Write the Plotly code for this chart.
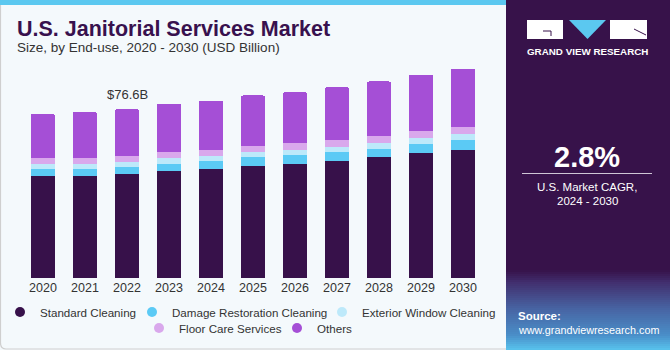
import plotly.graph_objects as go

years = ["2020", "2021", "2022", "2023", "2024", "2025", "2026", "2027", "2028", "2029", "2030"]
standard = [46.4, 46.4, 47.1, 48.6, 49.5, 50.9, 51.9, 53.2, 54.8, 56.7, 58.2]
damage = [3.2, 3.2, 3.2, 3.3, 3.5, 3.8, 3.8, 3.8, 3.9, 3.9, 4.2]
exterior = [2.3, 2.3, 2.3, 2.4, 2.3, 2.3, 2.4, 2.6, 2.6, 2.7, 3.0]
floor = [2.7, 2.7, 2.7, 2.9, 2.9, 3.0, 3.0, 2.9, 3.2, 3.2, 3.2]
others = [19.8, 20.7, 21.3, 21.8, 22.1, 22.8, 23.1, 24.0, 24.6, 25.6, 26.2]
series_names = ["Standard Cleaning", "Damage Restoration Cleaning", "Exterior Window Cleaning",
                "Floor Care Services", "Others"]
series_colors = ["#37114a", "#5bcaf5", "#bde9fa", "#d9a8ec", "#a54fd6"]
highlight_label = "$76.6B"
highlight_year = "2022"

W, H = 670, 350
# plot area in pixels
PL, PR, PT, PB = 22, 484, 65, 278.3
YMAX = 96.55


def px(x):
    return x / W


def py(y):
    return 1 - y / H


fig = go.Figure()
series = [standard, damage, exterior, floor, others]
legend_ids = ["legend", "legend2", "legend3", "legend4", "legend5"]
for name, vals, col in zip(series_names, series, series_colors):
    fig.add_trace(go.Bar(
        x=years, y=vals, name=name, marker_color=col,
        marker_line_width=0, showlegend=False,
    ))
# legend entries with round symbols
for name, col, lid in zip(series_names, series_colors, legend_ids):
    fig.add_trace(go.Scatter(
        x=[None], y=[None], mode="markers", name=name, legend=lid,
        marker=dict(symbol="circle", size=10, color=col), showlegend=True,
    ))

totals = [sum(v) for v in zip(*series)]
hi = years.index(highlight_year)
fig.add_annotation(x=hi, y=totals[hi], xref="x", yref="y", text=highlight_label,
                   showarrow=False, yshift=15, font=dict(size=13, color="#333333",
                                                           family="Liberation Sans"))

shapes = []
# left panel border
shapes.append(dict(type="path", xref="paper", yref="paper",
                   path=f"M {px(0.5)},{py(0)} L {px(0.5)},{py(343)} Q {px(0.5)},{py(349)} {px(6)},{py(349)} L {px(506)},{py(349)}",
                   line=dict(color="#cfcfcf", width=1.2), layer="below"))
# top strip
shapes.append(dict(type="rect", xref="paper", yref="paper", x0=px(0), x1=px(506), y0=py(0), y1=py(5),
                   fillcolor="#5bc8f0", line_width=0, layer="below"))
# right panel
shapes.append(dict(type="rect", xref="paper", yref="paper", x0=px(506), x1=px(670), y0=py(0), y1=py(350),
                   fillcolor="#37124a", line_width=0, layer="below"))
# gradient at bottom of right panel
stops = [(270, (55, 18, 74)), (283, (66, 48, 112)), (310, (72, 102, 165)), (335, (74, 142, 200)), (350, (88, 196, 238))]
for y0 in range(270, 350, 2):
    ym = y0 + 1
    for (a, ca), (b, cb) in zip(stops[:-1], stops[1:]):
        if a <= ym <= b:
            t = (ym - a) / (b - a)
            c = tuple(int(ca[k] + (cb[k] - ca[k]) * t) for k in range(3))
            break
    shapes.append(dict(type="rect", xref="paper", yref="paper", x0=px(506), x1=px(670),
                       y0=py(y0), y1=py(y0 + 2.5), fillcolor=f"rgb{c}", line_width=0, layer="below"))
# logo
shapes.append(dict(type="rect", xref="paper", yref="paper", x0=px(527), x1=px(563), y0=py(20), y1=py(39),
                   fillcolor="white", line_width=0))
shapes.append(dict(type="path", xref="paper", yref="paper",
                   path=f"M {px(569)},{py(20)} L {px(606)},{py(20)} L {px(587.5)},{py(39)} Z",
                   fillcolor="#5bc8f0", line_width=0))
shapes.append(dict(type="rect", xref="paper", yref="paper", x0=px(610), x1=px(647), y0=py(20), y1=py(39),
                   fillcolor="white", line_width=0))
shapes.append(dict(type="path", xref="paper", yref="paper",
                   path=f"M {px(543)},{py(31)} L {px(551)},{py(31)} L {px(551)},{py(36)}",
                   line=dict(color="#37124a", width=1)))
shapes.append(dict(type="line", xref="paper", yref="paper", x0=px(634), x1=px(646), y0=py(29), y1=py(35),
                   line=dict(color="#37124a", width=1)))
# CAGR divider
shapes.append(dict(type="line", xref="paper", yref="paper", x0=px(522), x1=px(652), y0=py(173.5), y1=py(173.5),
                   line=dict(color="#cfc6d6", width=1)))

fig.update_layout(shapes=shapes)


def ann(x, y, text, size, color="white", bold=False, xanchor="center", family="Liberation Sans"):
    fig.add_annotation(xref="paper", yref="paper", x=px(x), y=py(y), text=f"<b>{text}</b>" if bold else text,
                       showarrow=False, xanchor=xanchor, yanchor="middle", borderpad=0,
                       font=dict(size=size, color=color, family=family))


ann(16, 29, "U.S. Janitorial Services Market", 21.5, color="#38114e", bold=True, xanchor="left")
ann(16, 48, "Size, by End-use, 2020 - 2030 (USD Billion)", 13.5, color="#333333", xanchor="left")
ann(587.5, 51.5, "GRAND VIEW RESEARCH", 9.8, bold=True)
ann(587, 157, "2.8%", 29, bold=True)
ann(587, 187, "U.S. Market CAGR,", 11.5)
ann(587, 201, "2024 - 2030", 11.5)
ann(517, 316, "Source:", 11.5, bold=True, xanchor="left")
ann(517, 330, "www.grandviewresearch.com", 10.8, xanchor="left")

legend_font = dict(size=11.6, color="#333333", family="Liberation Sans")
# text start x and centre y for each legend entry
legend_text_x = [35, 167, 357, 174, 312]
legend_y = [312, 312, 312, 328, 328]
legends = {}
for lid, tx, ly in zip(legend_ids, legend_text_x, legend_y):
    legends[lid] = dict(orientation="h", x=px(tx - 35), xanchor="left", y=py(ly), yanchor="middle",
                        font=legend_font, bgcolor="rgba(0,0,0,0)", itemwidth=30, borderwidth=0)

fig.update_layout(
    width=W, height=H,
    margin=dict(l=0, r=0, t=0, b=0, pad=0, autoexpand=False),
    paper_bgcolor="#f4f9fc",
    plot_bgcolor="rgba(0,0,0,0)",
    barmode="stack",
    bargap=0.43,
    barcornerradius=2,
    font=dict(family="Liberation Sans", color="#333333"),
    xaxis=dict(type="category", range=[-0.5, len(years) - 0.5], domain=[px(PL), px(PR)],
               showgrid=False, showline=False, zeroline=False,
               ticks="", tickfont=dict(size=12.5, color="#333333"), fixedrange=True, automargin=False),
    yaxis=dict(range=[0, YMAX], domain=[py(PB), py(PT)], visible=False, showgrid=False, fixedrange=True,
               automargin=False),
    showlegend=True,
    **legends,
)

fig.write_html("out.html")
